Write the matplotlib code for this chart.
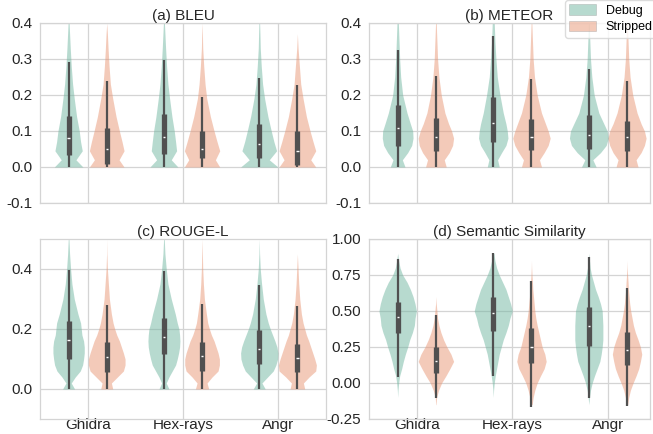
import matplotlib
matplotlib.use("Agg")
import matplotlib.pyplot as plt
from matplotlib.patches import Patch

plt.rcParams["font.family"] = ["Liberation Sans", "DejaVu Sans"]
plt.rcParams["axes.unicode_minus"] = False

# Categories and groups
tools = ["Ghidra", "Hex-rays", "Angr"]
variants = ["Debug", "Stripped"]
titles = ["(a) BLEU", "(b) METEOR", "(c) ROUGE-L", "(d) Semantic Similarity"]

# Violin order in every panel: Ghidra-Debug, Ghidra-Stripped, Hex-rays-Debug,
# Hex-rays-Stripped, Angr-Debug, Angr-Stripped.
# Widths are half-widths (pixels at 3x zoom).

# (a) BLEU
bleu_levels = [0, 0.02, 0.045, 0.07, 0.1, 0.14, 0.19, 0.23, 0.28, 0.33, 0.37, 0.4]
bleu_widths = [
    [43, 22, 41, 36, 32, 24, 17, 12, 8, 5, 3, 1.5],
    [52, 37, 52, 46, 38, 28, 18, 11, 7, 4, 2, 0],
    [42, 22, 38, 35, 31, 24, 17, 12, 8, 5, 3, 1.5],
    [53, 40, 53, 45, 36, 25, 14, 9, 5, 2, 1, 0],
    [56, 30, 52, 44, 36, 26, 16, 10, 6, 3, 2, 1],
    [55, 40, 55, 47, 38, 27, 17, 10, 6, 2, 0, 0],
]
bleu_lo = [0, 0, 0, 0, 0, 0]
bleu_q1 = [0.033, 0.007, 0.035, 0.026, 0.026, 0.005]
bleu_med = [0.081, 0.049, 0.084, 0.049, 0.065, 0.045]
bleu_q3 = [0.142, 0.107, 0.147, 0.100, 0.119, 0.100]
bleu_hi = [0.291, 0.238, 0.298, 0.195, 0.247, 0.227]

# (b) METEOR
meteor_levels = [0, 0.02, 0.04, 0.06, 0.08, 0.1, 0.12, 0.15, 0.2, 0.25, 0.3, 0.35, 0.4]
meteor_widths = [
    [22, 14, 30, 42, 46, 45, 38, 28, 15, 9, 6, 4, 2],
    [31, 25, 40, 50, 53, 47, 38, 27, 16, 9, 5, 3, 1],
    [18, 13, 25, 38, 44, 42, 38, 30, 20, 12, 8, 5, 3],
    [30, 24, 38, 50, 56, 50, 42, 30, 17, 9, 5, 3, 1],
    [22, 12, 35, 52, 58, 55, 45, 30, 16, 9, 5, 3, 1],
    [33, 27, 42, 52, 57, 52, 42, 30, 17, 9, 5, 3, 1],
]
meteor_lo = [0, 0, 0, 0, 0, 0]
meteor_q1 = [0.059, 0.045, 0.070, 0.047, 0.051, 0.045]
meteor_med = [0.107, 0.082, 0.121, 0.082, 0.090, 0.084]
meteor_q3 = [0.172, 0.135, 0.194, 0.132, 0.145, 0.127]
meteor_hi = [0.326, 0.254, 0.364, 0.245, 0.273, 0.240]

# (c) ROUGE-L
rouge_levels = [0, 0.02, 0.04, 0.06, 0.08, 0.1, 0.12, 0.14, 0.16, 0.18, 0.2, 0.22,
                0.25, 0.3, 0.35, 0.4, 0.45, 0.5]
rouge_widths = [
    [18, 8, 20, 35, 42, 45, 47, 47, 45, 40, 38, 36, 28, 17, 10, 6, 3, 1],
    [18, 14, 32, 50, 55, 55, 50, 44, 38, 30, 24, 19, 14, 8, 5, 2, 0.5, 0],
    [15, 7, 15, 25, 35, 40, 44, 47, 48, 47, 45, 40, 34, 22, 12, 7, 3, 1],
    [20, 15, 30, 48, 52, 52, 48, 42, 36, 28, 22, 17, 13, 7, 4, 2, 1, 0],
    [18, 8, 25, 42, 50, 55, 56, 53, 47, 40, 33, 27, 20, 12, 7, 3, 1, 0],
    [22, 18, 35, 55, 57, 52, 46, 40, 34, 27, 22, 17, 12, 7, 4, 2, 0, 0],
]
rouge_lo = [0, 0, 0, 0, 0, 0]
rouge_q1 = [0.100, 0.057, 0.117, 0.059, 0.084, 0.056]
rouge_med = [0.163, 0.106, 0.173, 0.109, 0.134, 0.102]
rouge_q3 = [0.228, 0.156, 0.236, 0.156, 0.196, 0.150]
rouge_hi = [0.396, 0.281, 0.394, 0.283, 0.346, 0.276]

# (d) Semantic Similarity
sem_levels = [-0.15, -0.1, -0.05, 0.0, 0.05, 0.1, 0.15, 0.2, 0.25, 0.3, 0.35, 0.4,
              0.45, 0.5, 0.55, 0.6, 0.65, 0.7, 0.75, 0.8, 0.85, 0.9]
sem_widths = [
    [0, 0, 1, 3, 6, 12, 17, 23, 30, 36, 44, 50, 52, 56, 52, 46, 38, 28, 15, 7, 3, 0],
    [0.5, 2, 8, 17, 30, 42, 53, 45, 33, 23, 15, 9, 5, 3, 1, 0, 0, 0, 0, 0, 0, 0],
    [0, 0, 1, 3, 6, 10, 14, 18, 24, 30, 38, 45, 50, 57, 52, 45, 38, 28, 18, 10, 5, 2],
    [2, 5, 10, 17, 27, 38, 44, 40, 32, 27, 22, 17, 13, 10, 8, 6, 4, 3, 1.5, 0.5, 0, 0],
    [0, 2, 5, 10, 17, 25, 33, 37, 40, 42, 42, 42, 41, 40, 35, 28, 20, 14, 8, 4, 2, 0],
    [2, 5, 10, 18, 27, 35, 40, 44, 40, 33, 25, 19, 15, 11, 8, 6, 4, 3, 1.5, 0.5, 0, 0],
]
sem_lo = [0.045, -0.103, 0.049, -0.167, -0.103, -0.160]
sem_q1 = [0.345, 0.068, 0.361, 0.139, 0.256, 0.127]
sem_med = [0.455, 0.153, 0.484, 0.251, 0.397, 0.232]
sem_q3 = [0.561, 0.251, 0.596, 0.383, 0.530, 0.352]
sem_hi = [0.862, 0.474, 0.906, 0.707, 0.878, 0.660]

# Axis ticks
small_ticks = [-0.1, 0.0, 0.1, 0.2, 0.3, 0.4]
small_labels = ["-0.1", "0.0", "0.1", "0.2", "0.3", "0.4"]
rouge_ticks = [0.0, 0.2, 0.4]
rouge_labels = ["0.0", "0.2", "0.4"]
sem_ticks = [-0.25, 0.0, 0.25, 0.5, 0.75, 1.0]
sem_labels = ["-0.25", "0.00", "0.25", "0.50", "0.75", "1.00"]

# desaturated Set2 colours as seaborn draws them
colors = ["#71b6a1", "#e89675"]
BOX = "#505050"
GRID = "#d4d4d4"
TEXT = "#262626"
SCALE = 1 / 286.0  # zoom pixels -> category units
DODGE = 0.2


def draw_violins(ax, levels, widths, lo, q1, med, q3, hi):
    for i, w in enumerate(widths):
        tool_idx, var_idx = divmod(i, 2)
        x = tool_idx + (DODGE if var_idx else -DODGE)
        half = [v * SCALE for v in w]
        ax.fill_betweenx(levels, [x - h for h in half], [x + h for h in half],
                         color=colors[var_idx], alpha=0.5, lw=0, zorder=2)
        ax.vlines(x, lo[i], hi[i], color=BOX, lw=1.6, zorder=3)
        ax.vlines(x, q1[i], q3[i], color=BOX, lw=3.8, zorder=4)
        ax.hlines(med[i], x - 0.012, x + 0.012, color="white", lw=1.0, zorder=5)


fig = plt.figure(figsize=(6.53, 4.34), dpi=100)
W, H = 653.0, 434.0
boxes = [
    (40, 23, 286, 180, 2.5),
    (369, 23, 281, 180, 2.44),
    (40, 239, 286, 180, 2.5),
    (369, 239, 281, 180, 2.44),
]
panels = [
    (bleu_levels, bleu_widths, bleu_lo, bleu_q1, bleu_med, bleu_q3, bleu_hi,
     (-0.1, 0.4), small_ticks, small_labels),
    (meteor_levels, meteor_widths, meteor_lo, meteor_q1, meteor_med, meteor_q3, meteor_hi,
     (-0.1, 0.4), small_ticks, small_labels),
    (rouge_levels, rouge_widths, rouge_lo, rouge_q1, rouge_med, rouge_q3, rouge_hi,
     (-0.1, 0.5), rouge_ticks, rouge_labels),
    (sem_levels, sem_widths, sem_lo, sem_q1, sem_med, sem_q3, sem_hi,
     (-0.25, 1.0), sem_ticks, sem_labels),
]

for k, ((l, t, w, h, xr), p) in enumerate(zip(boxes, panels)):
    ax = fig.add_axes([l / W, 1 - (t + h) / H, w / W, h / H])
    levels, widths, lo, q1, med, q3, hi, ylim, yt, yl = p
    draw_violins(ax, levels, widths, lo, q1, med, q3, hi)
    ax.set_xlim(-0.5, xr)
    ax.set_ylim(*ylim)
    ax.set_yticks(yt)
    ax.set_yticklabels(yl, fontsize=11, color=TEXT)
    ax.set_xticks(range(len(tools)))
    if k >= 2:
        ax.set_xticklabels(tools, fontsize=11, color=TEXT)
    else:
        ax.set_xticklabels([])
    ax.tick_params(axis="y", length=0, pad=5.5)
    ax.tick_params(axis="x", length=0, pad=-1)
    ax.grid(True, color=GRID, lw=0.9, zorder=0)
    ax.set_axisbelow(True)
    for s in ax.spines.values():
        s.set_color(GRID)
        s.set_linewidth(0.9)
    ax.set_title(titles[k], fontsize=11, pad=2, color=TEXT)

handles = [Patch(facecolor=c, alpha=0.5, edgecolor="#999999", lw=0.5) for c in colors]
fig.legend(handles, variants, loc="upper left", bbox_to_anchor=(565 / W, 1.0),
           fontsize=9, frameon=True, edgecolor="#d4d4d4", fancybox=True,
           handlelength=2.1, handleheight=0.9, borderpad=0.35, labelspacing=0.3,
           handletextpad=0.8, borderaxespad=0.0)

fig.savefig("out.png", dpi=100)
